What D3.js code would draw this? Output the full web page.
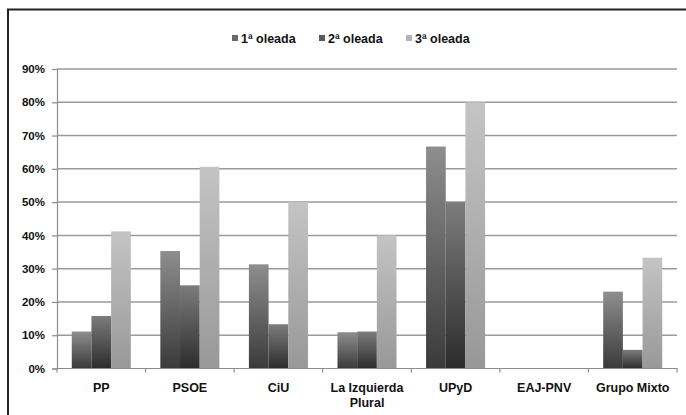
<!DOCTYPE html>
<html>
<head>
<meta charset="utf-8">
<script src="https://cdn.jsdelivr.net/npm/d3@7"></script>
<style>
body { margin: 0; background: #fff; }
text { font-family: "Liberation Sans", Arial, sans-serif; font-weight: bold; fill: #111; }
.grid line { stroke: #9a9a9a; stroke-width: 1.5; }
.axis path, .axis line { stroke: #8c8c8c; stroke-width: 1.2; }
</style>
</head>
<body>
<script>
//chart data
var categories = ["PP", "PSOE", "CiU", "La Izquierda Plural", "UPyD", "EAJ-PNV", "Grupo Mixto"];
var seriesNames = ["1ª oleada", "2ª oleada", "3ª oleada"];
var wave1 = [11.1, 35.3, 31.3, 10.9, 66.7, 0, 23.1];
var wave2 = [15.8, 25.0, 13.3, 11.1, 50.0, 0, 5.6];
var wave3 = [41.2, 60.6, 50.0, 40.0, 80.0, 0, 33.3];
var yTicks = [0, 10, 20, 30, 40, 50, 60, 70, 80, 90];

(function(){
    var width = 686, height = 415;
    var margin = {left: 57, right: 9, top: 69, bottom: 46};

    var svg = d3.select("body").append("svg")
        .attr("width", width)
        .attr("height", height);

    //gradients for the bars
    var defs = svg.append("defs");
    var grads = [["#8e8e8e", "#3a3a3a"], ["#7c7c7c", "#2c2c2c"], ["#c4c4c4", "#989898"]];
    var legendFill = ["#6a6a6a", "#5a5a5a", "#b4b4b4"];
    grads.forEach(function(g, i){
        var lg = defs.append("linearGradient")
            .attr("id", "g" + i)
            .attr("x1", 0).attr("y1", 0).attr("x2", 0).attr("y2", 1);
        lg.append("stop").attr("offset", "0%").attr("stop-color", g[0]);
        lg.append("stop").attr("offset", "100%").attr("stop-color", g[1]);
    });

    //outer frame (left + top)
    svg.append("path")
        .attr("d", "M8," + height + "V9.5H" + width)
        .attr("fill", "none")
        .attr("stroke", "#222")
        .attr("stroke-width", 2);

    var x = d3.scaleBand()
        .domain(categories)
        .range([margin.left, width - margin.right])
        .paddingInner(0)
        .paddingOuter(0);

    var y = d3.scaleLinear()
        .domain([0, 90])
        .range([height - margin.bottom - 0.5, margin.top]);

    //bar layout inside each category (gap 150%)
    var x1 = d3.scaleBand()
        .domain([0, 1, 2])
        .range([0, x.bandwidth()])
        .paddingOuter(0.75)
        .paddingInner(0);

    //gridlines
    svg.append("g")
        .attr("class", "grid")
        .selectAll("line")
        .data(yTicks.slice(1))
        .enter()
        .append("line")
        .attr("x1", margin.left)
        .attr("x2", width - margin.right)
        .attr("y1", function(d){ return y(d); })
        .attr("y2", function(d){ return y(d); });

    //bars
    var series = [wave1, wave2, wave3];
    series.forEach(function(vals, s){
        svg.append("g")
            .selectAll("rect")
            .data(vals)
            .enter()
            .append("rect")
            .attr("x", function(d, i){ return x(categories[i]) + x1(s); })
            .attr("width", x1.bandwidth())
            .attr("y", function(d){ return y(d); })
            .attr("height", function(d){ return y(0) - y(d); })
            .attr("fill", "url(#g" + s + ")");
    });

    //y axis
    var yAxis = d3.axisLeft(y)
        .tickValues(yTicks)
        .tickSize(5)
        .tickFormat(function(d){ return d + "%"; });
    var ya = svg.append("g")
        .attr("class", "axis")
        .attr("transform", "translate(" + margin.left + ",0)")
        .call(yAxis);
    ya.selectAll("text")
        .attr("x", -12)
        .style("font-size", "11.5px");

    //x axis
    var xAxis = d3.axisBottom(x)
        .tickSize(0)
        .tickFormat("");
    var xa = svg.append("g")
        .attr("class", "axis")
        .attr("transform", "translate(0," + y(0) + ")")
        .call(xAxis);
    xa.select(".domain").attr("d", "M" + margin.left + ",0H" + (width - margin.right) + "V4");
    //tick marks on category boundaries
    xa.selectAll(".bound")
        .data(categories)
        .enter()
        .append("line")
        .attr("x1", function(d){ return x(d); })
        .attr("x2", function(d){ return x(d); })
        .attr("y1", 0)
        .attr("y2", 4);

    //category labels
    var labels = svg.append("g");
    categories.forEach(function(c){
        var words = c == "La Izquierda Plural" ? ["La Izquierda", "Plural"] : [c];
        var t = labels.append("text")
            .attr("text-anchor", "middle")
            .attr("x", x(c) + x.bandwidth() / 2)
            .attr("y", 392)
            .style("font-size", "12.5px");
        words.forEach(function(w, i){
            t.append("tspan")
                .attr("x", x(c) + x.bandwidth() / 2)
                .attr("dy", i == 0 ? 0 : 15)
                .text(w);
        });
    });

    //legend
    var legendX = [232, 319, 406];
    var legend = svg.append("g");
    seriesNames.forEach(function(n, i){
        legend.append("rect")
            .attr("x", legendX[i])
            .attr("y", 35)
            .attr("width", 6)
            .attr("height", 6)
            .attr("fill", legendFill[i]);
        legend.append("text")
            .attr("x", legendX[i] + 9)
            .attr("y", 43)
            .style("font-size", "12.5px")
            .text(n);
    });
})();
</script>
</body>
</html>
